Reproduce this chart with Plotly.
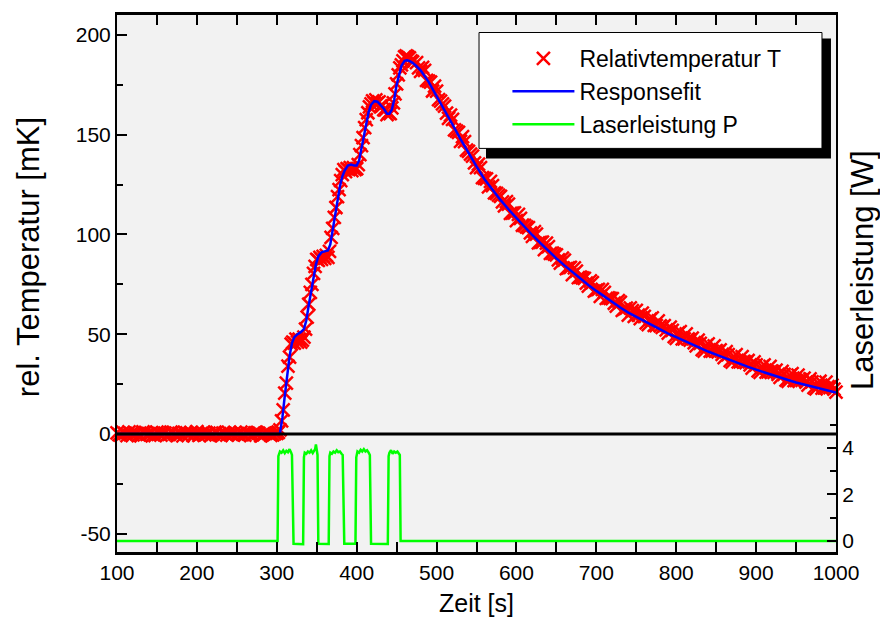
import plotly.graph_objects as go

# ---------------- data ----------------
# measured relative temperature T [mK]
temp_t_base = list(range(100, 301, 5))
temp_T_base = [0.5, -0.8, 0.3, 1.0, -0.5, 0.2, -1.0, 0.7, 0.0, -0.4, 0.9, -0.6, 0.4, -0.2, 0.8,
               -0.9, 0.1, 0.6, -0.3, -0.7, 1.1, 0.2, -0.5, 0.4, -0.1, 0.8, -0.8, 0.3, 0.6, -0.4,
               0.0, 0.9, -0.6, 0.2, -0.3, 0.7, -1.0, 0.4, 0.1, -0.5, 0.3]
temp_t_base2 = [102.5 + 5 * i for i in range(40)]
temp_T_base2 = [-0.3, 0.8, -0.9, 0.2, 0.6, -0.5, 1.0, -0.2, 0.4, -0.8,
                0.1, 0.7, -0.6, 0.9, -0.1, 0.3, -1.0, 0.5, 0.8, -0.4,
                -0.7, 0.6, 0.2, -0.9, 0.9, -0.3, 0.4, -0.6, 0.1, 0.8,
                -0.5, -0.2, 0.7, -0.8, 0.5, 0.3, -0.4, 0.9, -0.7, 0.2]
temp_t_rise = list(range(302, 471, 2))
temp_T_rise = [0.8, 2.0, 6.5, 12.0, 20.5, 25.5, 34.0, 38.5, 45.0, 46.0,
               45.5, 47.5, 46.0, 47.5, 46.0, 47.0, 48.5, 52.5, 58.5, 65.0,
               71.0, 75.0, 80.5, 84.0, 87.5, 87.0, 88.5, 87.5, 89.0, 88.0,
               89.5, 88.5, 91.5, 98.5, 103.0, 108.5, 113.5, 119.0, 122.5, 127.0,
               130.0, 132.5, 131.5, 133.0, 132.5, 133.5, 132.0, 133.5, 132.5, 133.0,
               135.0, 140.0, 144.5, 148.5, 153.5, 157.5, 161.0, 164.0, 165.5, 167.0,
               166.0, 167.5, 166.0, 166.5, 164.5, 164.5, 162.5, 162.5, 160.0, 161.0,
               160.5, 163.5, 166.0, 170.5, 175.5, 180.0, 183.5, 185.0, 187.0, 189.0,
               189.5, 189.0, 188.5, 187.0, 186.5]
temp_t_decay = list(range(475, 1001, 5))
temp_T_decay = [186.1, 181.7, 182.2, 176.9, 171.9, 171.8, 166.8, 164.3, 158.2, 157.7,
                151.8, 146.6, 146.5, 141.6, 139.2, 133.5, 133.5, 128.1, 123.8, 124.5,
                120.6, 119.1, 114.3, 115.2, 110.7, 106.9, 108.1, 104.5, 103.4, 99.0,
                100.2, 96.0, 92.4, 93.9, 90.6, 89.8, 85.6, 87.1, 83.2, 79.9,
                81.6, 78.6, 78.0, 74.1, 75.8, 72.1, 69.0, 71.0, 68.2, 67.8,
                64.1, 66.0, 62.5, 59.6, 61.8, 61.9, 57.8, 58.9, 54.8, 58.2,
                54.3, 54.2, 54.3, 50.5, 51.9, 47.9, 51.3, 47.6, 47.7, 48.0,
                44.1, 45.4, 41.5, 45.1, 41.5, 41.7, 42.1, 38.3, 39.7, 36.0,
                39.7, 36.1, 36.3, 36.8, 33.0, 34.6, 30.8, 34.6, 31.1, 31.5,
                32.0, 28.4, 29.9, 26.4, 30.2, 26.8, 27.3, 28.0, 24.5, 26.1,
                22.6, 26.4, 23.1, 23.7, 24.4, 21.0]
temp_t_decay2 = [477.5 + 5 * i for i in range(105)]
temp_T_decay2 = [183.5, 183.8, 177.2, 176.4, 174.3, 167.6, 165.4, 160.8, 159.8, 152.4,
                 151.2, 149.0, 142.3, 140.3, 135.9, 135.3, 128.5, 127.9, 126.6, 120.8,
                 119.7, 116.3, 116.5, 110.6, 110.8, 110.0, 104.6, 103.8, 100.8, 101.4,
                 95.8, 96.2, 95.6, 90.5, 90.1, 87.3, 88.1, 82.8, 83.5, 83.2,
                 78.4, 78.2, 75.6, 76.7, 71.6, 72.5, 72.5, 67.9, 67.9, 65.5,
                 66.8, 61.9, 63.0, 63.2, 58.9, 59.5, 60.6, 55.7, 57.5, 54.4,
                 56.7, 53.4, 52.1, 53.5, 48.8, 50.6, 47.6, 50.1, 47.0, 45.7,
                 47.0, 42.3, 44.3, 41.5, 44.1, 41.1, 39.9, 41.3, 36.7, 38.8,
                 36.1, 38.7, 35.7, 34.6, 36.1, 31.6, 33.7, 31.0, 33.8, 30.9,
                 29.9, 31.4, 27.0, 29.3, 26.7, 29.5, 26.8, 25.9, 27.6, 23.2,
                 25.5, 22.9, 25.9, 23.2, 22.4]
temp_t = temp_t_base + temp_t_base2 + temp_t_rise + temp_t_decay + temp_t_decay2
temp_T = temp_T_base + temp_T_base2 + temp_T_rise + temp_T_decay + temp_T_decay2

# response fit [mK]
fit_t = [100, 303, 304, 307, 310, 313, 316, 319, 322, 326, 330, 334, 337, 340, 343, 346, 349,
         352, 356, 360, 364, 367, 370, 373, 376, 379, 382, 385, 389, 393, 397, 400, 403, 406,
         409, 412, 415, 418, 422, 426, 430, 434, 438, 441, 444, 447, 450, 453, 456, 460, 463,
         466, 470, 475, 480, 490, 500, 510, 520, 530, 540, 550, 560, 570, 580, 590, 600, 610,
         620, 630, 640, 650, 660, 670, 680, 690, 700, 710, 720, 730, 740, 750, 760, 770, 780,
         790, 800, 810, 820, 830, 840, 850, 860, 870, 880, 890, 900, 910, 920, 930, 940, 950,
         960, 970, 980, 990, 1000]
fit_T = [0, 0, 0.5, 8, 19, 29.5, 39, 45.5, 48.5, 50, 51, 52.5, 57, 64.5, 72, 79, 85,
         89, 91, 91.5, 92, 95, 102, 110, 117.5, 124, 129, 132, 134.5, 135, 134.5, 134.5, 137, 143,
         150, 156.5, 161.5, 165, 166.8, 166.5, 165, 163, 160.5, 160.5, 162.5, 167.5, 175, 180.5, 184.5, 187, 187.3,
         187, 186, 184.3, 182.3, 176.5, 169.6, 162.5, 155.1, 147.8, 140.8, 134.1, 127.7, 122.3, 117.3, 112.6, 108.1, 103.7,
         99.6, 95.6, 91.7, 88.0, 84.5, 81.1, 77.8, 74.7, 71.7, 68.8, 66.0, 63.4, 60.8, 58.7, 56.5, 54.4, 52.2,
         50.3, 48.5, 46.6, 44.8, 43.0, 41.3, 39.7, 38.1, 36.6, 35.1, 33.6, 32.2, 30.8, 29.5, 28.2, 27.0, 25.8,
         24.8, 23.7, 22.6, 21.7, 20.8]

# laser power P [W]
laser_t = [100, 301, 302, 304, 306, 308, 310, 312, 314, 316, 318, 319, 321, 333, 334, 335, 337, 339,
           341, 343, 345, 347, 348, 349, 350, 351, 352, 365, 366, 367, 369, 371, 373, 375, 377, 379,
           381, 382.5, 384.5, 398.5, 399.5, 401, 403, 405, 407, 409, 411, 413, 415, 416.5, 418, 439,
           440, 441, 443, 445, 447, 449, 451, 453, 454, 455, 1000]
laser_P = [0, 0, 3.65, 3.85, 3.8, 3.9, 3.78, 3.88, 3.82, 3.95, 3.8, 3.7, -0.12, -0.14, 3.6, 3.8, 3.75, 3.85,
           3.8, 3.9, 3.78, 3.88, 3.95, 4.15, 3.85, 3.7, -0.12, -0.13, 3.65, 3.8, 3.75, 3.85, 3.8, 3.9, 3.82, 3.85,
           3.75, 3.7, -0.12, -0.12, 3.6, 3.85, 3.8, 3.92, 3.85, 3.95, 3.85, 3.9, 3.8, 3.7, -0.12, -0.13,
           3.65, 3.8, 3.9, 3.75, 3.85, 3.8, 3.85, 3.75, 3.7, 0, 0]

x_ticks = [100, 200, 300, 400, 500, 600, 700, 800, 900, 1000]
y_ticks = [-50, 0, 50, 100, 150, 200]
y_ticktext = ["-50", "0", "50", "100", "150", "200"]
y2_ticks = [0, 2, 4]
y2_minor = [1, 3, 5]

FONT = "Liberation Sans, Arial, Helvetica, sans-serif"

fig = go.Figure()
fig.add_trace(go.Scatter(
    x=temp_t, y=temp_T, mode="markers", name="Relativtemperatur T",
    marker=dict(symbol="x-thin", size=13, color="#ff0000",
                line=dict(color="#ff0000", width=2.5)),
    cliponaxis=False, legendgroup="a"))
fig.add_trace(go.Scatter(
    x=fit_t, y=fit_T, mode="lines", name="Responsefit",
    line=dict(color="#0000ff", width=2.5), legendgroup="b"))
fig.add_trace(go.Scatter(
    x=laser_t, y=laser_P, mode="lines", name="Laserleistung P", yaxis="y2",
    line=dict(color="#00ff00", width=2.5), legendgroup="c"))

axis_common = dict(showline=True, linecolor="black", ticks="inside", tickcolor="black",
                   showgrid=False, zeroline=False, automargin=False,
                   tickfont=dict(family=FONT, size=21, color="black"))

fig.update_layout(
    width=880, height=621,
    margin=dict(l=117, r=44, t=15, b=69),
    paper_bgcolor="white", plot_bgcolor="#f2f2f2",
    font=dict(family=FONT, color="black"),
    showlegend=True,
    legend=dict(x=0.543, y=0.959, xanchor="left", yanchor="top",
                bgcolor="rgba(0,0,0,0)", borderwidth=0,
                font=dict(family=FONT, size=23, color="black"),
                itemwidth=62, tracegroupgap=0, traceorder="grouped"),
    xaxis=dict(axis_common, range=[100, 1000], tickmode="array", tickvals=x_ticks,
               linewidth=2.5, ticklen=10, tickwidth=1.5, mirror="allticks",
               minor=dict(dtick=50, tick0=0, ticklen=6, tickwidth=1.5, ticks="inside", tickcolor="black"),
               title=dict(text="Zeit [s]", font=dict(family=FONT, size=25), standoff=12)),
    yaxis=dict(axis_common, range=[-59.2, 210], tickmode="array", tickvals=y_ticks,
               ticktext=y_ticktext,
               linewidth=2, ticklen=10, tickwidth=1.5,
               minor=dict(dtick=25, tick0=0, ticklen=6, tickwidth=1.5, ticks="inside", tickcolor="black")),
    yaxis2=dict(axis_common, overlaying="y", side="right", range=[-0.473, 22.62],
                tickmode="array", tickvals=y2_ticks, linewidth=2, ticklen=9, tickwidth=1.5,
                minor=dict(tickmode="array", tickvals=y2_minor, ticklen=6, tickwidth=1.5,
                           ticks="inside", tickcolor="black")),
    shapes=[
        # zero reference line
        dict(type="line", xref="paper", x0=0, x1=1, yref="y", y0=0, y1=0,
             line=dict(color="black", width=3), layer="above"),
        # legend shadow and box
        dict(type="rect", xref="paper", yref="paper", x0=0.5132, x1=0.993, y0=0.733, y1=0.9563,
             fillcolor="black", line=dict(width=0), layer="above"),
        dict(type="rect", xref="paper", yref="paper", x0=0.5035, x1=0.9805, y0=0.7516, y1=0.9674,
             fillcolor="white", line=dict(color="black", width=1), layer="above"),
    ],
    annotations=[
        dict(text="rel. Temperatur [mK]", xref="paper", yref="paper", x=-0.1238, y=0.549,
             textangle=-90, showarrow=False, xanchor="center", yanchor="middle",
             font=dict(family=FONT, size=31, color="black")),
        dict(text="Laserleistung [W]", xref="paper", yref="paper", x=1.036, y=0.525,
             textangle=-90, showarrow=False, xanchor="center", yanchor="middle",
             font=dict(family=FONT, size=31, color="black")),
    ],
)

fig.write_html("out.html")
